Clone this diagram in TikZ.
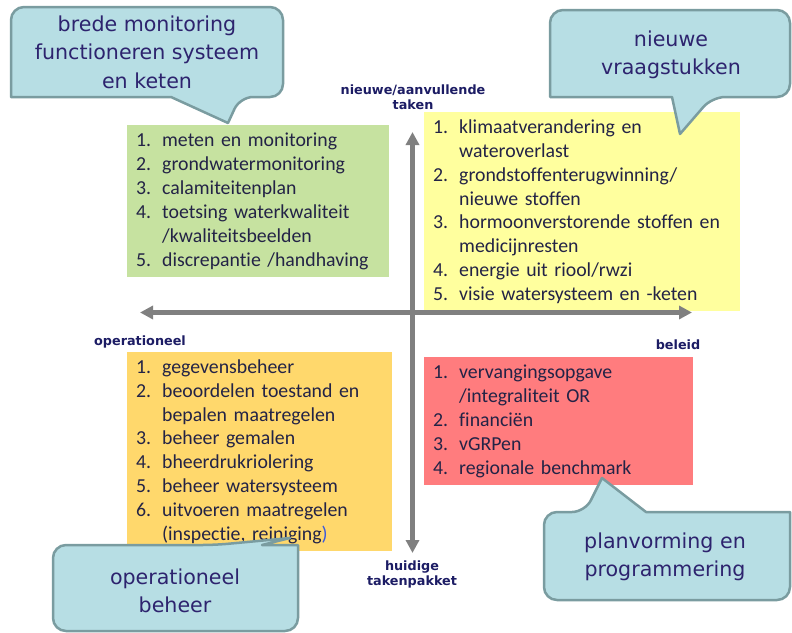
\documentclass[tikz,border=0pt]{standalone}
\usepackage{fontspec}
\setmainfont{Carlito}[Ligatures=NoCommon]
\newfontfamily\bubblefont{DejaVu Sans}
\usetikzlibrary{arrows.meta}

\definecolor{greenfill}{RGB}{198,226,160}
\definecolor{yellowfill}{RGB}{255,255,158}
\definecolor{orangefill}{RGB}{255,216,108}
\definecolor{redfill}{RGB}{255,124,126}
\definecolor{bubblefill}{RGB}{183,222,228}
\definecolor{bubbleedge}{RGB}{122,156,160}
\definecolor{bubbletext}{RGB}{45,35,110}
\definecolor{listtext}{RGB}{35,35,70}
\definecolor{axistext}{RGB}{28,28,100}
\definecolor{axisgray}{RGB}{128,128,128}
\definecolor{parenblue}{RGB}{60,90,220}

% numbered entry and continuation line inside a list box
\newcommand\itm[2]{\makebox[26pt][l]{#1}#2}
\newcommand\cnt[1]{\hspace*{26pt}#1}

\begin{document}
\begin{tikzpicture}[x=1pt,y=-1pt,
  listbox/.style={anchor=north west, inner xsep=9pt, inner ysep=0pt,
    align=left, text=listtext,
    font=\fontsize{19.8pt}{23.9pt}\selectfont},
  bubble/.style={draw=bubbleedge, fill=bubblefill, line width=2.5pt,
    line join=round},
  bubbletxt/.style={align=center, text=bubbletext, inner sep=0pt,
    font=\bubblefont\fontsize{20.6pt}{28.5pt}\selectfont},
  axislabel/.style={align=center, text=axistext, inner sep=0pt,
    font=\bubblefont\bfseries\fontsize{12.8pt}{15pt}\selectfont},
  axis/.style={draw=axisgray, line width=4.5pt,
    {Triangle[length=13pt,width=13pt]}-{Triangle[length=13pt,width=13pt]}}
]
\useasboundingbox (0,0) rectangle (792,632);

% four quadrant lists
\node[listbox, fill=greenfill, text width=244pt, minimum height=152pt] (green) at (127,125)
  {\itm{1.}{meten en monitoring}\\
   \itm{2.}{grondwatermonitoring}\\
   \itm{3.}{calamiteitenplan}\\
   \itm{4.}{toetsing waterkwaliteit}\\
   \cnt{/kwaliteitsbeelden}\\
   \itm{5.}{discrepantie /handhaving}};

\node[listbox, fill=yellowfill, text width=298pt, minimum height=199pt] (yellow) at (424,112)
  {\itm{1.}{klimaatverandering en}\\
   \cnt{wateroverlast}\\
   \itm{2.}{grondstoffenterugwinning/}\\
   \cnt{nieuwe stoffen}\\
   \itm{3.}{hormoonverstorende stoffen en}\\
   \cnt{medicijnresten}\\
   \itm{4.}{energie uit riool/rwzi}\\
   \itm{5.}{visie watersysteem en -keten}};

\node[listbox, fill=orangefill, text width=247pt, minimum height=199pt] (orange) at (127,352)
  {\itm{1.}{gegevensbeheer}\\
   \itm{2.}{beoordelen toestand en}\\
   \cnt{bepalen maatregelen}\\
   \itm{3.}{beheer gemalen}\\
   \itm{4.}{bheerdrukriolering}\\
   \itm{5.}{beheer watersysteem}\\
   \itm{6.}{uitvoeren maatregelen}\\
   \cnt{(inspectie, reiniging\textcolor{parenblue}{)}}};

\node[listbox, fill=redfill, text width=251pt, minimum height=128pt] (red) at (424,357)
  {\itm{1.}{vervangingsopgave}\\
   \cnt{/integraliteit OR}\\
   \itm{2.}{financiën}\\
   \itm{3.}{vGRPen}\\
   \itm{4.}{regionale benchmark}};

% axes
\coordinate (west) at (140,312.5);
\coordinate (east) at (692,312.5);
\coordinate (north) at (412.5,132);
\coordinate (south) at (412.5,553);
\draw[axis] (west) -- (east);
\draw[axis] (south) -- (north);

\node[axislabel] (lbltop) at (413,97) {nieuwe/aanvullende\\taken};
\node[axislabel, anchor=base] (lblleft) at (140,345) {operationeel};
\node[axislabel, anchor=base] (lblright) at (678,349) {beleid};
\node[axislabel] (lblbottom) at (412,574) {huidige\\takenpakket};

% speech bubbles
\draw[bubble, rounded corners=13pt]
  (147,7) -- (283,7) -- (283,97) -- (240,97) [sharp corners] -- (228,123)
  -- (171,97) -- (11,97) [rounded corners=13pt] -- (11,7) -- cycle;
\node[bubbletxt] (bubblemon) at (147,52) {brede monitoring\\functioneren systeem\\en keten};

\draw[bubble, rounded corners=13pt]
  (670,10) -- (790,10) -- (790,97) -- (712,97) [sharp corners] -- (680,134)
  -- (672,97) -- (550,97) [rounded corners=13pt] -- (550,10) -- cycle;
\node[bubbletxt] (bubblenew) at (671,55) {nieuwe\\vraagstukken};

\draw[bubble, rounded corners=13pt]
  (175,631) -- (53,631) -- (53,545) -- (215,545) [sharp corners] -- (290,538)
  -- (262,545) -- (298,545) [rounded corners=13pt] -- (298,631) -- cycle;
\node[bubbletxt] (bubbleops) at (175,591) {operationeel\\beheer};

\draw[bubble, rounded corners=13pt]
  (667,600) -- (544,600) -- (544,512) -- (585,512) [sharp corners] -- (602,478)
  -- (646,512) -- (790,512) [rounded corners=13pt] -- (790,600) -- cycle;
\node[bubbletxt] (bubbleplan) at (665,557) {planvorming en\\programmering};

\end{tikzpicture}
\end{document}
